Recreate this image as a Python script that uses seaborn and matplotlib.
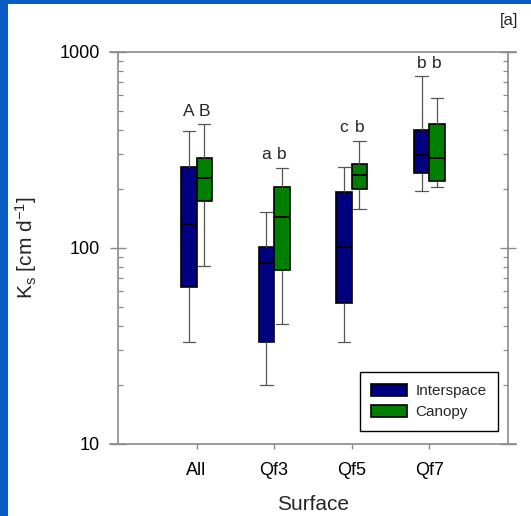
import numpy as np
import pandas as pd
import matplotlib
matplotlib.use("Agg")
import matplotlib.pyplot as plt
from matplotlib.patches import Rectangle
from matplotlib.ticker import NullFormatter, LogLocator, FixedLocator
import seaborn as sns

# ---- data ----
surfaces = ["All", "Qf3", "Qf5", "Qf7"]
covers = ["Interspace", "Canopy"]
# five-number summaries: lower whisker, Q1, median, Q3, upper whisker
interspace_min = [33, 20, 33, 195]
interspace_q1 = [63, 33, 52, 240]
interspace_med = [133, 84, 101, 298]
interspace_q3 = [259, 101, 193, 399]
interspace_max = [394, 153, 259, 751]
canopy_min = [81, 41, 158, 205]
canopy_q1 = [173, 77, 200, 219]
canopy_med = [227, 143, 235, 286]
canopy_q3 = [289, 205, 269, 430]
canopy_max = [427, 256, 352, 583]
letters_interspace = ["A", "a", "c", "b"]
letters_canopy = ["B", "b", "b", "b"]
ytick_values = [10, 100, 1000]
ytick_labels = ["10", "100", "1000"]

rows = []
for i, s in enumerate(surfaces):
    for v in (interspace_min[i], interspace_q1[i], interspace_med[i], interspace_q3[i], interspace_max[i]):
        rows.append((s, "Interspace", v))
    for v in (canopy_min[i], canopy_q1[i], canopy_med[i], canopy_q3[i], canopy_max[i]):
        rows.append((s, "Canopy", v))
df = pd.DataFrame(rows, columns=["Surface", "Cover", "Ks"])

sns.set_style("ticks")
plt.rcParams["font.family"] = ["Liberation Sans", "DejaVu Sans"]
plt.rcParams["mathtext.default"] = "regular"

W, H = 531, 516
fig = plt.figure(figsize=(W / 100, H / 100), dpi=100)
fig.patch.set_facecolor("#0A5CC4")
fig.patches.append(Rectangle((8 / W, 0), 1 - 8 / W, 1 - 4 / H, transform=fig.transFigure,
                             facecolor="white", edgecolor="none", zorder=-1))

ax_l, ax_r, ax_t, ax_b = 110, 516, 52, 443.5
ax = fig.add_axes([ax_l / W, 1 - ax_b / H, (ax_r - ax_l) / W, (ax_b - ax_t) / H])
ax.set_facecolor("white")

palette = {"Interspace": "#000080", "Canopy": "#007F00"}
sns.boxplot(data=df, x="Surface", y="Ks", hue="Cover", order=surfaces, hue_order=covers,
            palette=palette, width=0.4, gap=0, whis=(0, 100), showfliers=False,
            linecolor="black", linewidth=1.2, saturation=1, log_scale=(False, True),
            whiskerprops=dict(color="#555555", linewidth=0.9),
            capprops=dict(color="#555555", linewidth=0.9),
            medianprops=dict(color="black", linewidth=1.4),
            ax=ax)

# widen whisker caps (seaborn draws them at half the box width)
for ln in ax.lines:
    xd = np.asarray(ln.get_xdata(), dtype=float)
    yd = np.asarray(ln.get_ydata(), dtype=float)
    if len(xd) == 2 and yd[0] == yd[1] and abs(abs(xd[1] - xd[0]) - 0.1) < 1e-6:
        c = xd.mean()
        ln.set_xdata([c - 0.08, c + 0.08])

ax.set_yscale("log")
ax.set_ylim(10, 1000)
ax.set_xlim(-1.115, 4.117)
ax.yaxis.set_major_locator(FixedLocator(ytick_values))
ax.set_yticklabels(ytick_labels)
ax.yaxis.set_minor_locator(LogLocator(base=10, subs=np.arange(2, 10)))
ax.yaxis.set_minor_formatter(NullFormatter())

spine_c = "#8A8A8A"
for sp in ax.spines.values():
    sp.set_visible(True)
    sp.set_color(spine_c)
    sp.set_linewidth(1.2)
ax.spines["left"].set_position(("axes", (117.5 - ax_l) / (ax_r - ax_l)))
ax.spines["right"].set_position(("axes", (507.7 - ax_l) / (ax_r - ax_l)))

ax.tick_params(axis="y", which="major", direction="inout", length=11.5, width=1.0,
               color=spine_c, left=True, right=True, labelsize=13, pad=6.8, labelcolor="black")
ax.tick_params(axis="y", which="minor", direction="in", length=3.8, width=0.9,
               color=spine_c, left=True, right=True)
ax.tick_params(axis="x", which="major", direction="out", length=3.6, width=1.0,
               color=spine_c, bottom=True, top=False, labelsize=13, pad=10, labelcolor="black")
ax.set_xlabel("")
ax.set_ylabel("")

# significance letters above each box
for i in range(len(surfaces)):
    top = max(interspace_max[i], canopy_max[i]) * 10 ** (13 / 195.5)
    ax.text(i - 0.1, top, letters_interspace[i], ha="center", va="center", fontsize=12.5)
    ax.text(i + 0.1, top, letters_canopy[i], ha="center", va="center", fontsize=12.5)

handles, labels = ax.get_legend_handles_labels()
leg = ax.legend(handles, labels, loc="lower right",
                bbox_to_anchor=((498.3 - ax_l) / (ax_r - ax_l), (ax_b - 430.7) / (ax_b - ax_t)),
                borderaxespad=0, fontsize=11, handlelength=2.3, handleheight=0.85,
                handletextpad=0.6, borderpad=0.75, labelspacing=0.45,
                fancybox=False, framealpha=1, edgecolor="black", title=None)
leg.get_frame().set_linewidth(1.0)
for h in leg.legend_handles:
    h.set_edgecolor("black")

fig.text(26 / W, 1 - 248 / H, "K$_{s}$ [cm d$^{-1}$]", rotation=90, ha="center", va="center", fontsize=15)
fig.text(313 / W, 1 - 505 / H, "Surface", ha="center", va="center", fontsize=15)
fig.text(518 / W, 1 - 20 / H, "[a]", ha="right", va="center", fontsize=12)

fig.savefig("out.png", dpi=100, facecolor=fig.get_facecolor())
